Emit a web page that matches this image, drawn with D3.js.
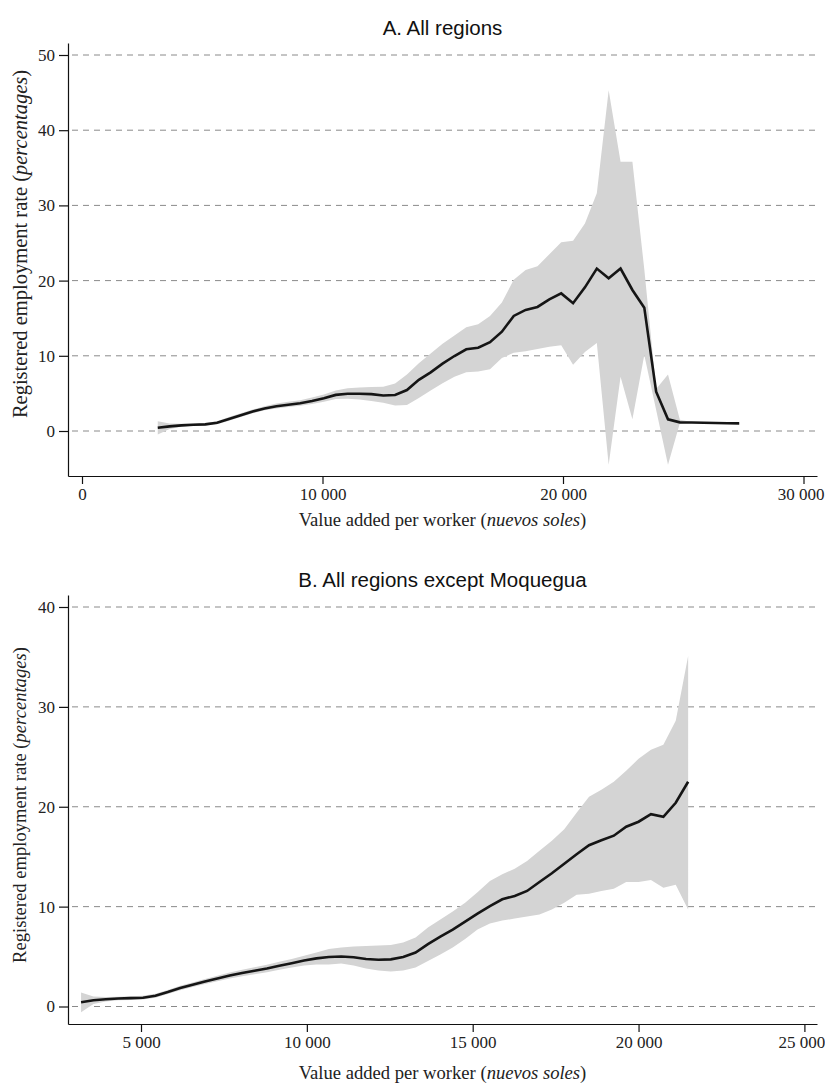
<!DOCTYPE html>
<html>
<head>
<meta charset="utf-8">
<script src="https://cdn.jsdelivr.net/npm/d3@7"></script>
<style>
  html, body { margin: 0; padding: 0; background: #fff; }
  svg { display: block; }
  .tick text { font-family: "Liberation Serif", "Times New Roman", serif; font-size: 17px; fill: #222; }
  .axis path, .axis line { stroke: #111; stroke-width: 1.2; }
  .grid line { stroke: #8a8a8a; stroke-width: 1; stroke-dasharray: 6,5; }
  .ptitle { font-family: "Liberation Sans", Arial, sans-serif; font-size: 20.5px; fill: #111; }
  .atitle { font-family: "Liberation Serif", "Times New Roman", serif; font-size: 18.6px; fill: #222; }
</style>
</head>
<body>
<svg id="chart" width="825" height="1084"></svg>
<script>
// ---------- Panel A: All regions ----------
const titleA = "A. All regions";
const xA = [3150,3643,4137,4630,5124,5617,6110,6604,7097,7591,8084,8577,9071,9564,10058,10551,11044,11538,12031,12525,
            13018,13511,14005,14498,14992,15485,15978,16472,16965,17459,17952,18445,18939,19432,19926,20419,20912,21406,21899,22393,
            22886,23380,23873,24366,24860,25353,25847,26340,26833,27327];
const lineA = [0.44,0.62,0.75,0.84,0.88,1.1,1.6,2.1,2.6,3.0,3.3,3.5,3.7,4.0,4.35,4.8,4.96,4.96,4.9,4.72,
               4.78,5.45,6.8,7.8,8.95,9.97,10.86,11.08,11.8,13.2,15.3,16.1,16.5,17.5,18.3,17.0,19.1,21.6,20.3,21.6,
               18.75,16.4,5.23,1.55,1.15,1.13,1.1,1.06,1.03,1.02];
const hiA = [1.3,1.0,0.95,1.0,1.05,1.3,1.85,2.35,2.85,3.3,3.65,3.9,4.1,4.45,4.85,5.4,5.7,5.8,5.85,5.9,
             6.3,7.5,9.0,10.3,11.6,12.7,13.8,14.2,15.3,17.1,20.1,21.4,21.9,23.5,25.1,25.3,27.6,31.6,45.3,35.8,
             35.8,21.5,5.6,7.5,1.5,1.2,1.17,1.13,1.1,1.08];
const loA = [-0.45,0.25,0.55,0.7,0.72,0.9,1.35,1.85,2.35,2.75,3.0,3.2,3.35,3.6,3.9,4.25,4.3,4.2,4.0,3.75,
             3.4,3.45,4.4,5.4,6.35,7.2,7.8,7.9,8.2,9.7,10.4,10.6,10.9,11.2,11.4,8.8,10.5,11.7,-4.5,7.2,
             1.55,10.1,2.8,-4.5,1.05,1.05,1.02,0.98,0.95,0.95];
const xTicksA = [0, 10000, 20000, 30000];
const yTicksA = [0, 10, 20, 30, 40, 50];

// ---------- Panel B: All regions except Moquegua ----------
const titleB = "B. All regions except Moquegua";
const xB = [3193,3567,3940,4314,4687,5061,5434,5808,6181,6555,6928,7302,7675,8049,8422,8796,9169,9543,9916,10290,
            10663,11037,11410,11784,12157,12531,12904,13278,13651,14025,14398,14772,15145,15519,15892,16266,16639,17013,17386,17760,
            18133,18507,18880,19254,19627,20001,20374,20748,21121,21495];
const lineB = [0.43,0.62,0.72,0.8,0.84,0.88,1.08,1.45,1.85,2.17,2.5,2.8,3.1,3.35,3.58,3.8,4.07,4.33,4.6,4.82,
               4.95,5.0,4.93,4.76,4.68,4.72,4.95,5.4,6.25,7.0,7.7,8.5,9.3,10.06,10.73,11.07,11.57,12.47,13.34,14.3,
               15.25,16.15,16.65,17.1,18.0,18.5,19.26,19.0,20.4,22.5];
const hiB = [1.4,1.0,0.95,0.98,1.02,1.07,1.28,1.66,2.07,2.4,2.75,3.07,3.4,3.67,3.92,4.17,4.47,4.75,5.08,5.4,
             5.75,5.9,6.0,6.05,6.1,6.15,6.4,6.9,7.9,8.7,9.5,10.4,11.45,12.57,13.24,13.8,14.58,15.6,16.6,17.75,
             19.4,21.0,21.7,22.5,23.6,24.8,25.7,26.2,28.6,35.1];
const loB = [-0.57,0.25,0.5,0.62,0.66,0.7,0.88,1.25,1.63,1.95,2.25,2.53,2.8,3.03,3.24,3.43,3.67,3.91,4.1,4.2,
             4.2,4.3,4.1,3.8,3.6,3.5,3.6,3.9,4.55,5.2,5.9,6.75,7.7,8.3,8.6,8.8,9.0,9.2,9.7,10.4,
             11.2,11.3,11.57,11.8,12.47,12.47,12.67,11.9,12.2,9.7];
const xTicksB = [5000, 10000, 15000, 20000, 25000];
const yTicksB = [0, 10, 20, 30, 40];

const xLabel = ["Value added per worker (", "nuevos soles", ")"];
const yLabel = ["Registered employment rate (", "percentages", ")"];

const svg = d3.select("#chart");
const fmtSp = v => v >= 1000 ? String(Math.floor(v/1000)) + " " + String(v % 1000).padStart(3, "0") : String(v);

function panel(cfg) {
  const L = 68, R = 817;
  const x = d3.scaleLinear().domain(cfg.xAnchor).range(cfg.xAnchorPx);
  const y = d3.scaleLinear().domain(cfg.yAnchor).range(cfg.yAnchorPx);
  x.domain([x.invert(L), x.invert(R)]).range([L, R]);
  y.domain([y.invert(cfg.bottom), y.invert(cfg.top)]).range([cfg.bottom, cfg.top]);

  const g = svg.append("g");

  g.append("g").attr("class", "grid")
    .selectAll("line").data(cfg.yTicks).join("line")
    .attr("x1", L + 4).attr("x2", R).attr("y1", d => y(d)).attr("y2", d => y(d));

  const data = cfg.xs.map((v, i) => ({x: v, y: cfg.line[i], lo: cfg.lo[i], hi: cfg.hi[i]}));

  g.append("path").datum(data)
    .attr("fill", "#d4d4d4")
    .attr("d", d3.area().x(d => x(d.x)).y0(d => y(d.lo)).y1(d => y(d.hi)));

  g.append("path").datum(data)
    .attr("fill", "none").attr("stroke", "#151515").attr("stroke-width", 2.6)
    .attr("stroke-linejoin", "miter")
    .attr("d", d3.line().x(d => x(d.x)).y(d => y(d.y)));

  const xa = g.append("g").attr("class", "axis")
    .attr("transform", `translate(0,${cfg.bottom})`)
    .call(d3.axisBottom(x).tickValues(cfg.xTicks).tickSize(8).tickPadding(4).tickSizeOuter(0).tickFormat(fmtSp));
  // keep the last label inside the page
  const last = cfg.xTicks[cfg.xTicks.length - 1];
  xa.selectAll(".tick").filter(d => d === last).select("text").attr("dx", -3);

  g.append("g").attr("class", "axis")
    .attr("transform", `translate(${L},0)`)
    .call(d3.axisLeft(y).tickValues(cfg.yTicks).tickSize(9).tickPadding(4).tickSizeOuter(0).tickFormat(d3.format("d")));

  const cx = (L + R) / 2;
  g.append("text").attr("class", "ptitle").attr("x", cx).attr("y", cfg.titleY)
    .attr("text-anchor", "middle").text(cfg.title);

  const xt = g.append("text").attr("class", "atitle").attr("x", cx).attr("y", cfg.xTitleY)
    .attr("text-anchor", "middle");
  xt.append("tspan").text(xLabel[0]);
  xt.append("tspan").attr("font-style", "italic").text(xLabel[1]);
  xt.append("tspan").text(xLabel[2]);

  const yt = g.append("text").attr("class", "atitle")
    .style("font-size", cfg.yTitleSize + "px")
    .attr("transform", `translate(${cfg.yTitleX},${cfg.yTitleY}) rotate(-90)`)
    .attr("text-anchor", "middle");
  yt.append("tspan").text(yLabel[0]);
  yt.append("tspan").attr("font-style", "italic").text(yLabel[1]);
  yt.append("tspan").text(yLabel[2]);
}

panel({
  title: titleA, xs: xA, line: lineA, lo: loA, hi: hiA,
  xTicks: xTicksA, yTicks: yTicksA,
  xAnchor: [0, 30000], xAnchorPx: [82, 803.5],
  yAnchor: [0, 50], yAnchorPx: [431, 55],
  top: 43, bottom: 476,
  titleY: 35, xTitleY: 526, yTitleX: 27, yTitleY: 244, yTitleSize: 20.5
});

panel({
  title: titleB, xs: xB, line: lineB, lo: loB, hi: hiB,
  xTicks: xTicksB, yTicks: yTicksB,
  xAnchor: [5000, 25000], xAnchorPx: [141, 804.4],
  yAnchor: [0, 40], yAnchorPx: [1006.5, 607],
  top: 595, bottom: 1024,
  titleY: 587, xTitleY: 1079, yTitleX: 26, yTitleY: 805, yTitleSize: 18.6
});
</script>
</body>
</html>
